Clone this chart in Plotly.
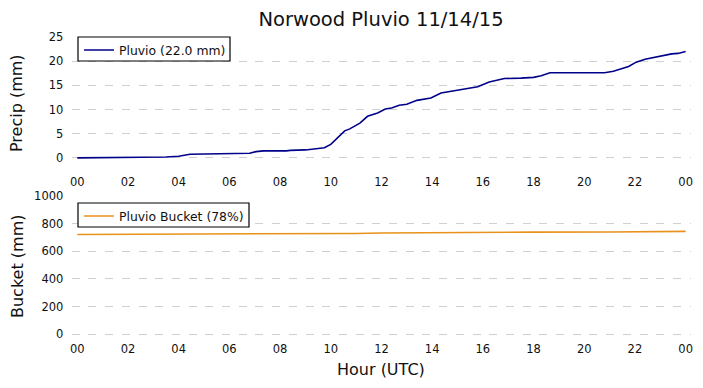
import plotly.graph_objects as go

# ---- data ----
hours = [0, 2.45, 2.55, 3.5, 4.0, 4.45, 5.5, 6.15, 6.8, 7.05, 7.35, 8.25, 8.4, 9.0, 9.3,
         9.75, 10.0, 10.25, 10.55, 10.75, 11.15, 11.45, 11.85, 12.15, 12.4, 12.7, 13.0,
         13.4, 13.95, 14.35, 14.75, 15.1, 15.4, 15.8, 16.25, 16.55, 16.85, 17.5, 18.0,
         18.3, 18.65, 20.8, 21.15, 21.75, 22.05, 22.4, 22.75, 23.05, 23.45, 23.7, 24.0]
precip = [0, 0, 0.15, 0.2, 0.35, 0.75, 0.8, 0.95, 0.95, 1.3, 1.45, 1.45, 1.55, 1.65, 1.8,
          2.1, 2.8, 4.1, 5.6, 6.0, 7.2, 8.6, 9.3, 10.1, 10.3, 10.9, 11.1,
          11.9, 12.4, 13.4, 13.8, 14.0, 14.4, 14.7, 15.7, 16.0, 16.4, 16.5, 16.65,
          17.0, 17.6, 17.6, 17.9, 18.9, 19.8, 20.4, 20.8, 21.2, 21.5, 21.6, 22.0]
bucket_hours = [0, 4, 8, 10, 11, 12, 14, 16, 18, 21, 22, 23, 24]
bucket = [722, 722.8, 723.5, 724.5, 729, 732, 735, 738, 739, 739.6, 741, 743, 744]
tick_hours = [0, 2, 4, 6, 8, 10, 12, 14, 16, 18, 20, 22, 24]
tick_labels = ["00", "02", "04", "06", "08", "10", "12", "14", "16", "18", "20", "22", "00"]
precip_ticks = [0, 5, 10, 15, 20, 25]
bucket_ticks = [0, 200, 400, 600, 800, 1000]

W, H = 703, 388
FONT = "DejaVu Sans"

def px_x(p):
    return p / W

def px_y(p):
    return 1 - p / H

fig = go.Figure()
fig.add_trace(go.Scatter(x=hours, y=precip, mode="lines", name="Pluvio (22.0 mm)",
                         line=dict(color="#00008b", width=1.6), xaxis="x", yaxis="y",
                         legend="legend", showlegend=True))
fig.add_trace(go.Scatter(x=bucket_hours, y=bucket, mode="lines", name="Pluvio Bucket (78%)",
                         line=dict(color="#e8921c", width=1.6), xaxis="x2", yaxis="y2",
                         legend="legend2", showlegend=True))

xdom = [px_x(71.7), px_x(690.7)]
xcommon = dict(domain=xdom, range=[-0.22, 24.2], tickvals=tick_hours, ticktext=tick_labels,
               showgrid=False, zeroline=False, showline=False, ticks="outside", ticklen=1,
               tickcolor="rgba(0,0,0,0)", tickfont=dict(family=FONT, size=11.5, color="#111"),
               automargin=False)
ycommon = dict(showgrid=True, gridcolor="#d0d0d0", griddash="8px,8.7px", gridwidth=1,
               zeroline=False, showline=False, ticks="outside", ticklen=5,
               tickcolor="rgba(0,0,0,0)", tickfont=dict(family=FONT, size=11.5, color="#111"),
               automargin=False)

legend_common = dict(xanchor="left", yanchor="top", bgcolor="rgba(0,0,0,0)",
                     borderwidth=0, font=dict(family=FONT, size=12.4, color="#111"),
                     itemwidth=30, tracegroupgap=0, visible=True)

# legend frames (px)
frames = [(78, 37, 230, 61), (78, 203, 249, 227)]
shapes = [dict(type="rect", xref="paper", yref="paper", x0=px_x(a), x1=px_x(c),
               y0=px_y(d), y1=px_y(b), line=dict(color="black", width=1.2),
               fillcolor="white", layer="above") for a, b, c, d in frames]

fig.update_layout(
    width=W, height=H,
    margin=dict(l=0, r=0, t=0, b=0, pad=0, autoexpand=False),
    paper_bgcolor="white", plot_bgcolor="white",
    showlegend=True,
    font=dict(family=FONT, color="#111"),
    title=dict(text="Norwood Pluvio 11/14/15", font=dict(family=FONT, size=19.5, color="#111"),
               x=381 / W, xref="paper", xanchor="center",
               y=1 - 19 / H, yref="paper", yanchor="middle", automargin=False),
    xaxis=dict(anchor="y", **xcommon),
    xaxis2=dict(anchor="y2", **xcommon),
    yaxis=dict(domain=[px_y(170), px_y(36)], range=[-2.5, 25.2], tickvals=precip_ticks,
               anchor="x", **ycommon),
    yaxis2=dict(domain=[px_y(337), px_y(196)], range=[-20, 1000], tickvals=bucket_ticks,
                anchor="x2", **ycommon),
    legend=dict(x=px_x(79), y=px_y(35.5), **legend_common),
    legend2=dict(x=px_x(79), y=px_y(201.5), **legend_common),
    shapes=shapes,
    annotations=[
        dict(text="Precip (mm)", x=px_x(17), y=px_y(103), xref="paper", yref="paper",
             textangle=-90, showarrow=False, xanchor="center", yanchor="middle",
             font=dict(family=FONT, size=16, color="#111")),
        dict(text="Bucket (mm)", x=px_x(17), y=px_y(267), xref="paper", yref="paper",
             textangle=-90, showarrow=False, xanchor="center", yanchor="middle",
             font=dict(family=FONT, size=16, color="#111")),
        dict(text="Hour (UTC)", x=px_x(381), y=px_y(369), xref="paper", yref="paper",
             showarrow=False, xanchor="center", yanchor="middle",
             font=dict(family=FONT, size=16, color="#111")),
    ],
)

fig.write_html("out.html", config={"displayModeBar": False},
               post_script="document.body.style.margin='0';")
